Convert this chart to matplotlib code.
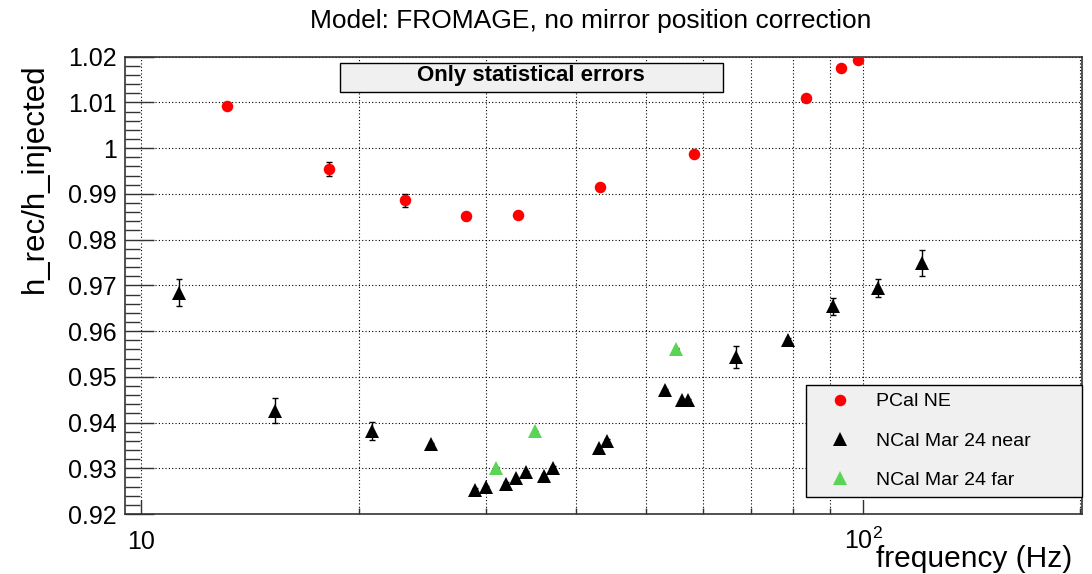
import matplotlib
matplotlib.use('Agg')
import matplotlib.pyplot as plt
from matplotlib.ticker import FixedLocator, FixedFormatter, MultipleLocator, NullFormatter, FuncFormatter
from matplotlib.patches import Rectangle

plt.rcParams['font.family'] = ['Liberation Sans', 'DejaVu Sans']
plt.rcParams['mathtext.fontset'] = 'custom'
plt.rcParams['mathtext.rm'] = 'Liberation Sans'

# PCal NE
pcal_f = [13.15, 18.2, 23.2, 28.2, 33.2, 43.2, 58.3, 83.3, 93.3, 98.5]
pcal_r = [1.0093, 0.9954, 0.9886, 0.9851, 0.9854, 0.9916, 0.9988, 1.0109, 1.0175, 1.0192]
pcal_err = [0.0004, 0.0015, 0.0014, 0.0003, 0.0003, 0.0003, 0.0003, 0.0003, 0.0003, 0.0003]

# NCal Mar 24 near
near_f = [11.27, 15.33, 20.9, 25.2, 29.0, 30.05, 31.97, 33.0, 34.07, 36.08, 37.14,
          43.05, 44.1, 53.1, 56.05, 57.1, 66.6, 78.7, 90.9, 104.9, 120.5]
near_r = [0.9684, 0.9426, 0.9382, 0.9353, 0.9253, 0.9258, 0.9266, 0.9279, 0.9291, 0.9284, 0.9301,
          0.9344, 0.9360, 0.9471, 0.9449, 0.9449, 0.9544, 0.9580, 0.9654, 0.9695, 0.9749]
near_err = [0.003, 0.0028, 0.002, 0.0003, 0.0003, 0.0003, 0.0003, 0.0003, 0.0003, 0.0003, 0.0003,
            0.0003, 0.0003, 0.0003, 0.0003, 0.0003, 0.0024, 0.0004, 0.0019, 0.002, 0.0028]

# NCal Mar 24 far
far_f = [31.0, 35.1, 55.05]
far_r = [0.9301, 0.9381, 0.9561]
far_err = [0.0001, 0.0001, 0.0001]

x_major = [10, 100]
x_major_labels = ['10', r'$\mathregular{10^{2}}$']
x_minor = [20, 30, 40, 50, 60, 70, 80, 90, 200]

fig = plt.figure(figsize=(10.92, 5.74), dpi=100)
ax = fig.add_axes([0.1145, 0.1045, 0.8763, 0.7967])
ax.set_xscale('log')

red = '#ff0000'
green = '#59d454'

eb = dict(fmt='none', ecolor='black', elinewidth=1, capsize=2.2, capthick=1, zorder=3)
ax.errorbar(pcal_f, pcal_r, yerr=pcal_err, **eb)
ax.errorbar(near_f, near_r, yerr=near_err, **eb)
ax.errorbar(far_f, far_r, yerr=far_err, **eb)

h1, = ax.plot(pcal_f, pcal_r, 'o', color=red, ms=8.3, mew=0, label='PCal NE', zorder=4)
h2, = ax.plot(near_f, near_r, '^', color='black', ms=10, mew=0, label='NCal Mar 24 near', zorder=4)
h3, = ax.plot(far_f, far_r, '^', color=green, ms=10, mew=0, label='NCal Mar 24 far', zorder=4)

ax.set_xlim(9.49, 201)
ax.set_ylim(0.92, 1.02)

ax.xaxis.set_major_locator(FixedLocator(x_major))
ax.xaxis.set_major_formatter(FixedFormatter(x_major_labels))
ax.xaxis.set_minor_locator(FixedLocator(x_minor))
ax.xaxis.set_minor_formatter(NullFormatter())
ax.yaxis.set_major_locator(MultipleLocator(0.01))
ax.yaxis.set_minor_locator(MultipleLocator(0.002))
ax.yaxis.set_major_formatter(FuncFormatter(lambda v, p: f'{round(v, 2):g}'))

dot = (0, (1, 2))
ax.grid(True, which='major', axis='y', ls=dot, color='black', lw=0.8)
ax.grid(True, which='both', axis='x', ls=dot, color='black', lw=0.8)
ax.set_axisbelow(True)

edge = '#333333'
for s in ax.spines.values():
    s.set_color(edge)
    s.set_linewidth(1.2)

ax.tick_params(axis='y', which='major', direction='in', length=21, width=1, color=edge, labelsize=18, pad=6)
ax.tick_params(axis='y', which='minor', direction='in', length=10.8, width=1, color=edge)
ax.tick_params(axis='x', which='major', direction='in', length=10, width=1, color=edge, labelsize=18, pad=25.5)
ax.tick_params(axis='x', which='minor', direction='in', length=4.3, width=1, color=edge)
for t in ax.xaxis.get_major_ticks(numticks=2):
    t.label1.set_verticalalignment('baseline')

# stats box
ax.add_patch(Rectangle((0.2247, 0.9234), 0.4002, 0.0635, transform=ax.transAxes,
                       facecolor='#f0f0f0', edgecolor='black', lw=1, zorder=5))
ax.text(0.4245, 0.946, 'Only statistical errors', transform=ax.transAxes, ha='center', va='baseline',
        fontsize=16, fontweight='bold', zorder=6)

leg = ax.legend(handles=[h1, h2, h3], bbox_to_anchor=(0.7116, 0.0372, 0.2884, 0.2495), loc='lower left',
                mode='expand', fontsize=14, borderpad=0.4, handlelength=2.7, handletextpad=0.5,
                labelspacing=1.12, fancybox=False, framealpha=1, facecolor='#f0f0f0',
                edgecolor='black', borderaxespad=0, numpoints=1)
leg.get_frame().set_linewidth(1)
leg.set_zorder(6)

fig.text(591 / 1092, 1 - 28 / 574, 'Model: FROMAGE, no mirror position correction',
         ha='center', va='baseline', fontsize=19)
fig.text(43 / 1092, 1 - 63 / 574, 'h_rec/h_injected', rotation=90, rotation_mode='anchor',
         ha='right', va='baseline', fontsize=22.5)
fig.text(1072 / 1092, 1 - 567 / 574, 'frequency (Hz)', ha='right', va='baseline', fontsize=21.5)

fig.savefig('out.png', dpi=100)
